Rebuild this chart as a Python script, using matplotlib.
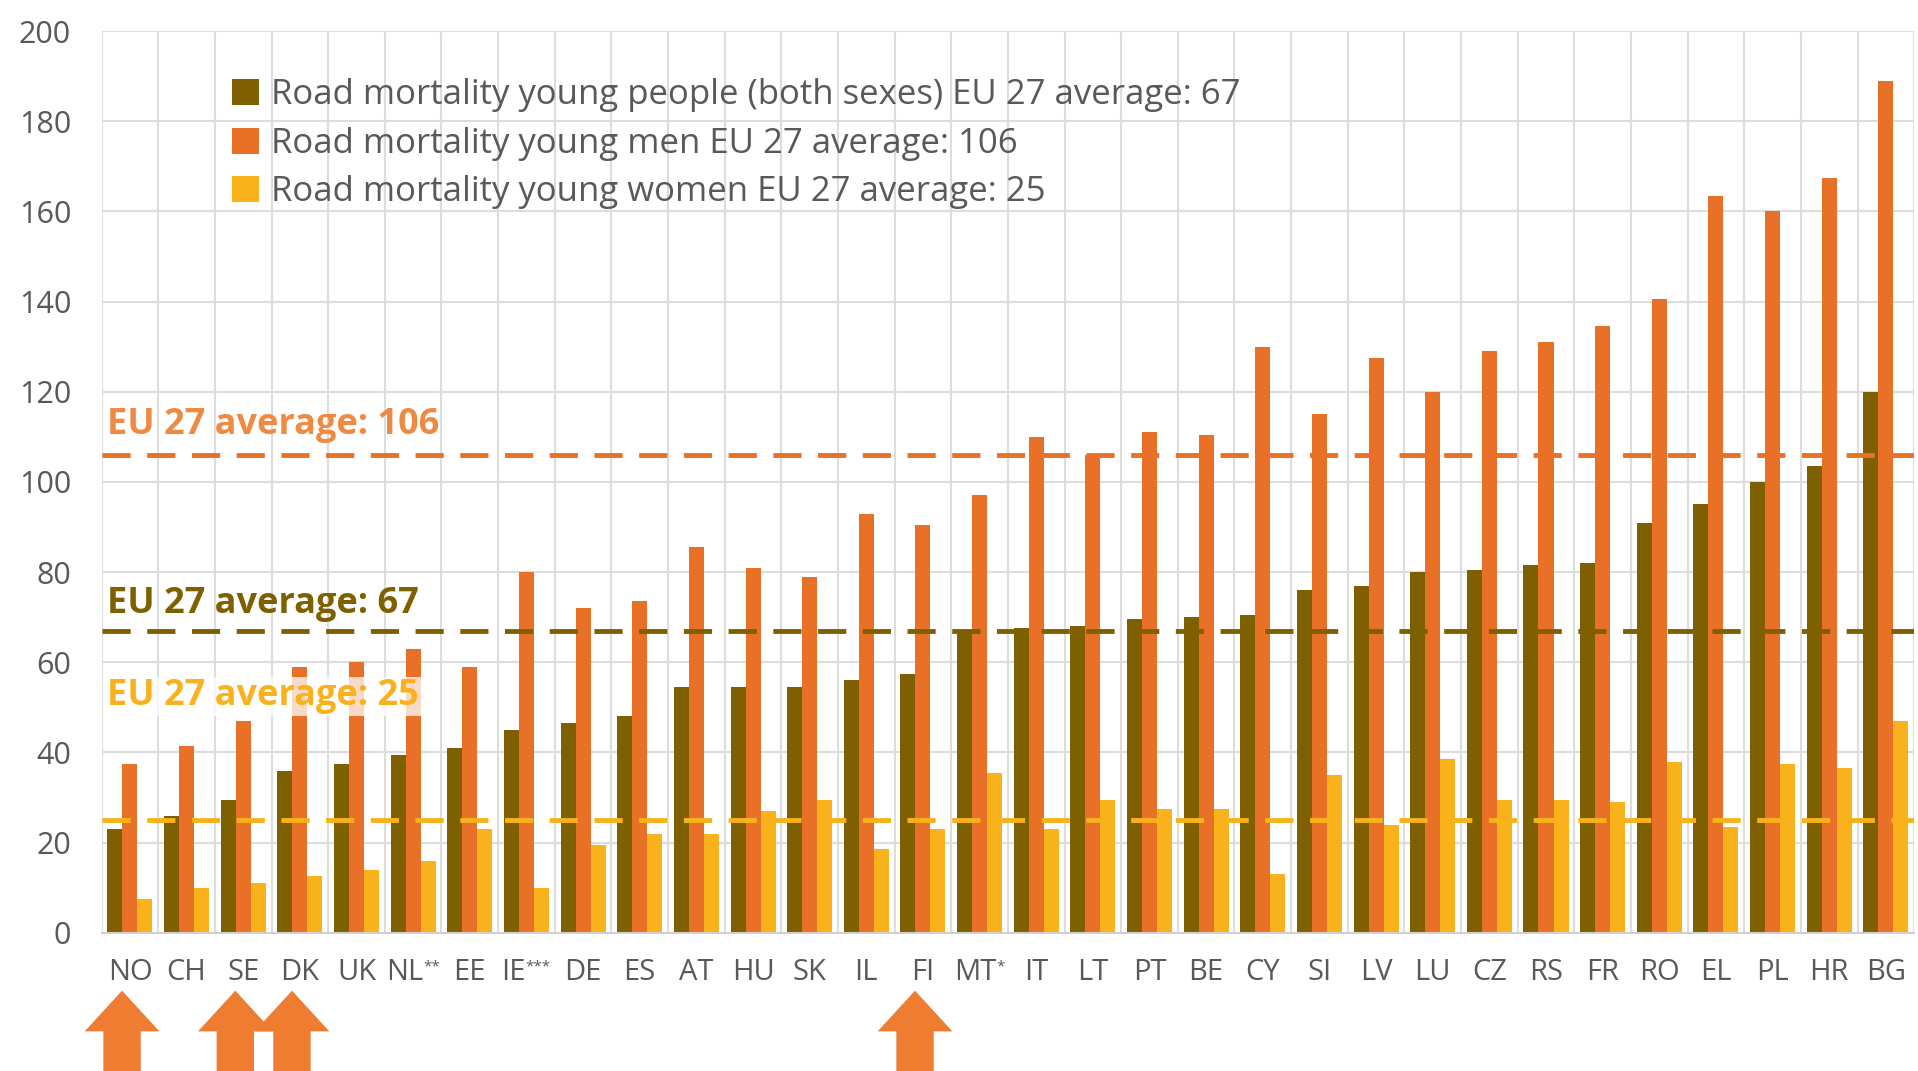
import matplotlib.pyplot as plt
from matplotlib.patches import Polygon
from matplotlib.transforms import blended_transform_factory, ScaledTranslation
import numpy as np

# ======================== DATA ========================
countries = ['NO', 'CH', 'SE', 'DK', 'UK', 'NL**', 'EE', 'IE***', 'DE', 'ES', 'AT', 'HU',
             'SK', 'IL', 'FI', 'MT*', 'IT', 'LT', 'PT', 'BE', 'CY', 'SI', 'LV', 'LU',
             'CZ', 'RS', 'FR', 'RO', 'EL', 'PL', 'HR', 'BG']
both_sexes = [23, 26, 29.5, 36, 37.5, 39.5, 41, 45, 46.5, 48, 54.5, 54.5,
              54.5, 56, 57.5, 67, 67.5, 68, 69.5, 70, 70.5, 76, 77, 80,
              80.5, 81.5, 82, 91, 95, 100, 103.5, 120]
men = [37.5, 41.5, 47, 59, 60, 63, 59, 80, 72, 73.5, 85.5, 81,
       79, 93, 90.5, 97, 110, 106, 111, 110.5, 130, 115, 127.5, 120,
       129, 131, 134.5, 140.5, 163.5, 160, 167.5, 189]
women = [7.5, 10, 11, 12.5, 14, 16, 23, 10, 19.5, 22, 22, 27,
         29.5, 18.5, 23, 35.5, 23, 29.5, 27.5, 27.5, 13, 35, 24, 38.5,
         29.5, 29.5, 29, 38, 23.5, 37.5, 36.5, 47]
avg_both, avg_men, avg_women = 67, 106, 25
highlighted = ['NO', 'SE', 'DK', 'FI']

series_labels = ['Road mortality young people (both sexes) EU 27 average: 67',
                 'Road mortality young men EU 27 average: 106',
                 'Road mortality young women EU 27 average: 25']

# ======================== STYLE ========================
c_olive = '#7F6000'
c_orange = '#E97027'
c_yellow = '#F9B21C'
c_arrow = '#EE7D31'
c_text = '#595959'
c_grid = '#DDDDDD'

plt.rcParams['font.family'] = ['Open Sans', 'DejaVu Sans']

fig = plt.figure(figsize=(19.18, 10.71), dpi=100)
ax = fig.add_axes([0.053, 0.129, 0.945, 0.842])

x = np.arange(len(countries))
w = 0.265

# ======================== BARS ========================
b1 = ax.bar(x - w, both_sexes, w, color=c_olive, zorder=2)
b2 = ax.bar(x, men, w, color=c_orange, zorder=2)
b3 = ax.bar(x + w, women, w, color=c_yellow, zorder=2)

# ======================== AVERAGE LINES ========================
dash = (0, (5.8, 3.4))
ax.axhline(avg_men, color=c_orange, lw=3.5, linestyle=dash, zorder=4)
ax.axhline(avg_both, color=c_olive, lw=3.5, linestyle=dash, zorder=4)
ax.axhline(avg_women, color=c_yellow, lw=3.5, linestyle=dash, zorder=4)

ax.text(-0.4, avg_men + 6.7, 'EU 27 average: %d' % avg_men, color='#EF8A45',
        fontsize=26, fontweight='bold', va='center', ha='left', zorder=5)
ax.text(-0.4, avg_both + 5.9, 'EU 27 average: %d' % avg_both, color=c_olive,
        fontsize=26, fontweight='bold', va='center', ha='left', zorder=5)
ax.text(-0.4, avg_women + 27.5, 'EU 27 average: %d' % avg_women, color=c_yellow,
        fontsize=26, fontweight='bold', va='center', ha='left', zorder=5,
        bbox=dict(facecolor='white', alpha=0.75, edgecolor='none', pad=1))

# ======================== AXES ========================
ax.set_xlim(-0.5, len(countries) - 0.5)
ax.set_ylim(0, 200)
ax.set_yticks(np.arange(0, 201, 20))
ax.set_xticks(x)
ax.set_xticklabels([c.rstrip('*') for c in countries])
ax.set_xticks(np.arange(-0.5, len(countries), 1), minor=True)
ax.tick_params(axis='both', which='both', length=0, colors=c_text, labelsize=21)
ax.tick_params(axis='y', pad=22, labelsize=22)
ax.tick_params(axis='x', pad=18)
ax.grid(True, axis='y', which='major', color=c_grid, lw=1.5, zorder=0)
ax.grid(True, axis='x', which='minor', color=c_grid, lw=1.5, zorder=0)
ax.grid(False, axis='x', which='major')
ax.set_axisbelow(True)
for s in ['top', 'right', 'left']:
    ax.spines[s].set_visible(False)
ax.spines['bottom'].set_color('#D0D0D0')
ax.spines['bottom'].set_linewidth(1.5)

# footnote asterisks as small superscripts after the country code,
# label shifted left so code + stars stay centred
for lbl, c in zip(ax.get_xticklabels(), countries):
    stars = c[len(c.rstrip('*')):]
    if stars:
        shift = ScaledTranslation(-3.2 * len(stars) / 72, 0, fig.dpi_scale_trans)
        lbl.set_transform(lbl.get_transform() + shift)
        ax.annotate(stars, xy=(1, 1), xycoords=lbl, xytext=(0, -1),
                    textcoords='offset points', ha='left', va='top',
                    fontsize=11, color=c_text)

leg = ax.legend([b1, b2, b3], series_labels, loc='upper left',
                bbox_to_anchor=(0.121, 0.927), bbox_transform=fig.transFigure,
                frameon=False, fontsize=25, handlelength=0.78, handleheight=0.78,
                handletextpad=0.35, labelspacing=0.42, borderpad=0, borderaxespad=0)
for t in leg.get_texts():
    t.set_color(c_text)

# ======================== ARROWS ========================
trans = blended_transform_factory(ax.transData, fig.transFigure)
for name in highlighted:
    cx = countries.index(name) - 0.14
    hw, sw = 0.66, 0.33
    pts = [(cx - sw, 0.0), (cx - sw, 0.037), (cx - hw, 0.037), (cx, 0.075),
           (cx + hw, 0.037), (cx + sw, 0.037), (cx + sw, 0.0)]
    ax.add_patch(Polygon(pts, closed=True, transform=trans, facecolor=c_arrow,
                         edgecolor='none', clip_on=False, zorder=6))

fig.savefig('out.png', dpi=100)
